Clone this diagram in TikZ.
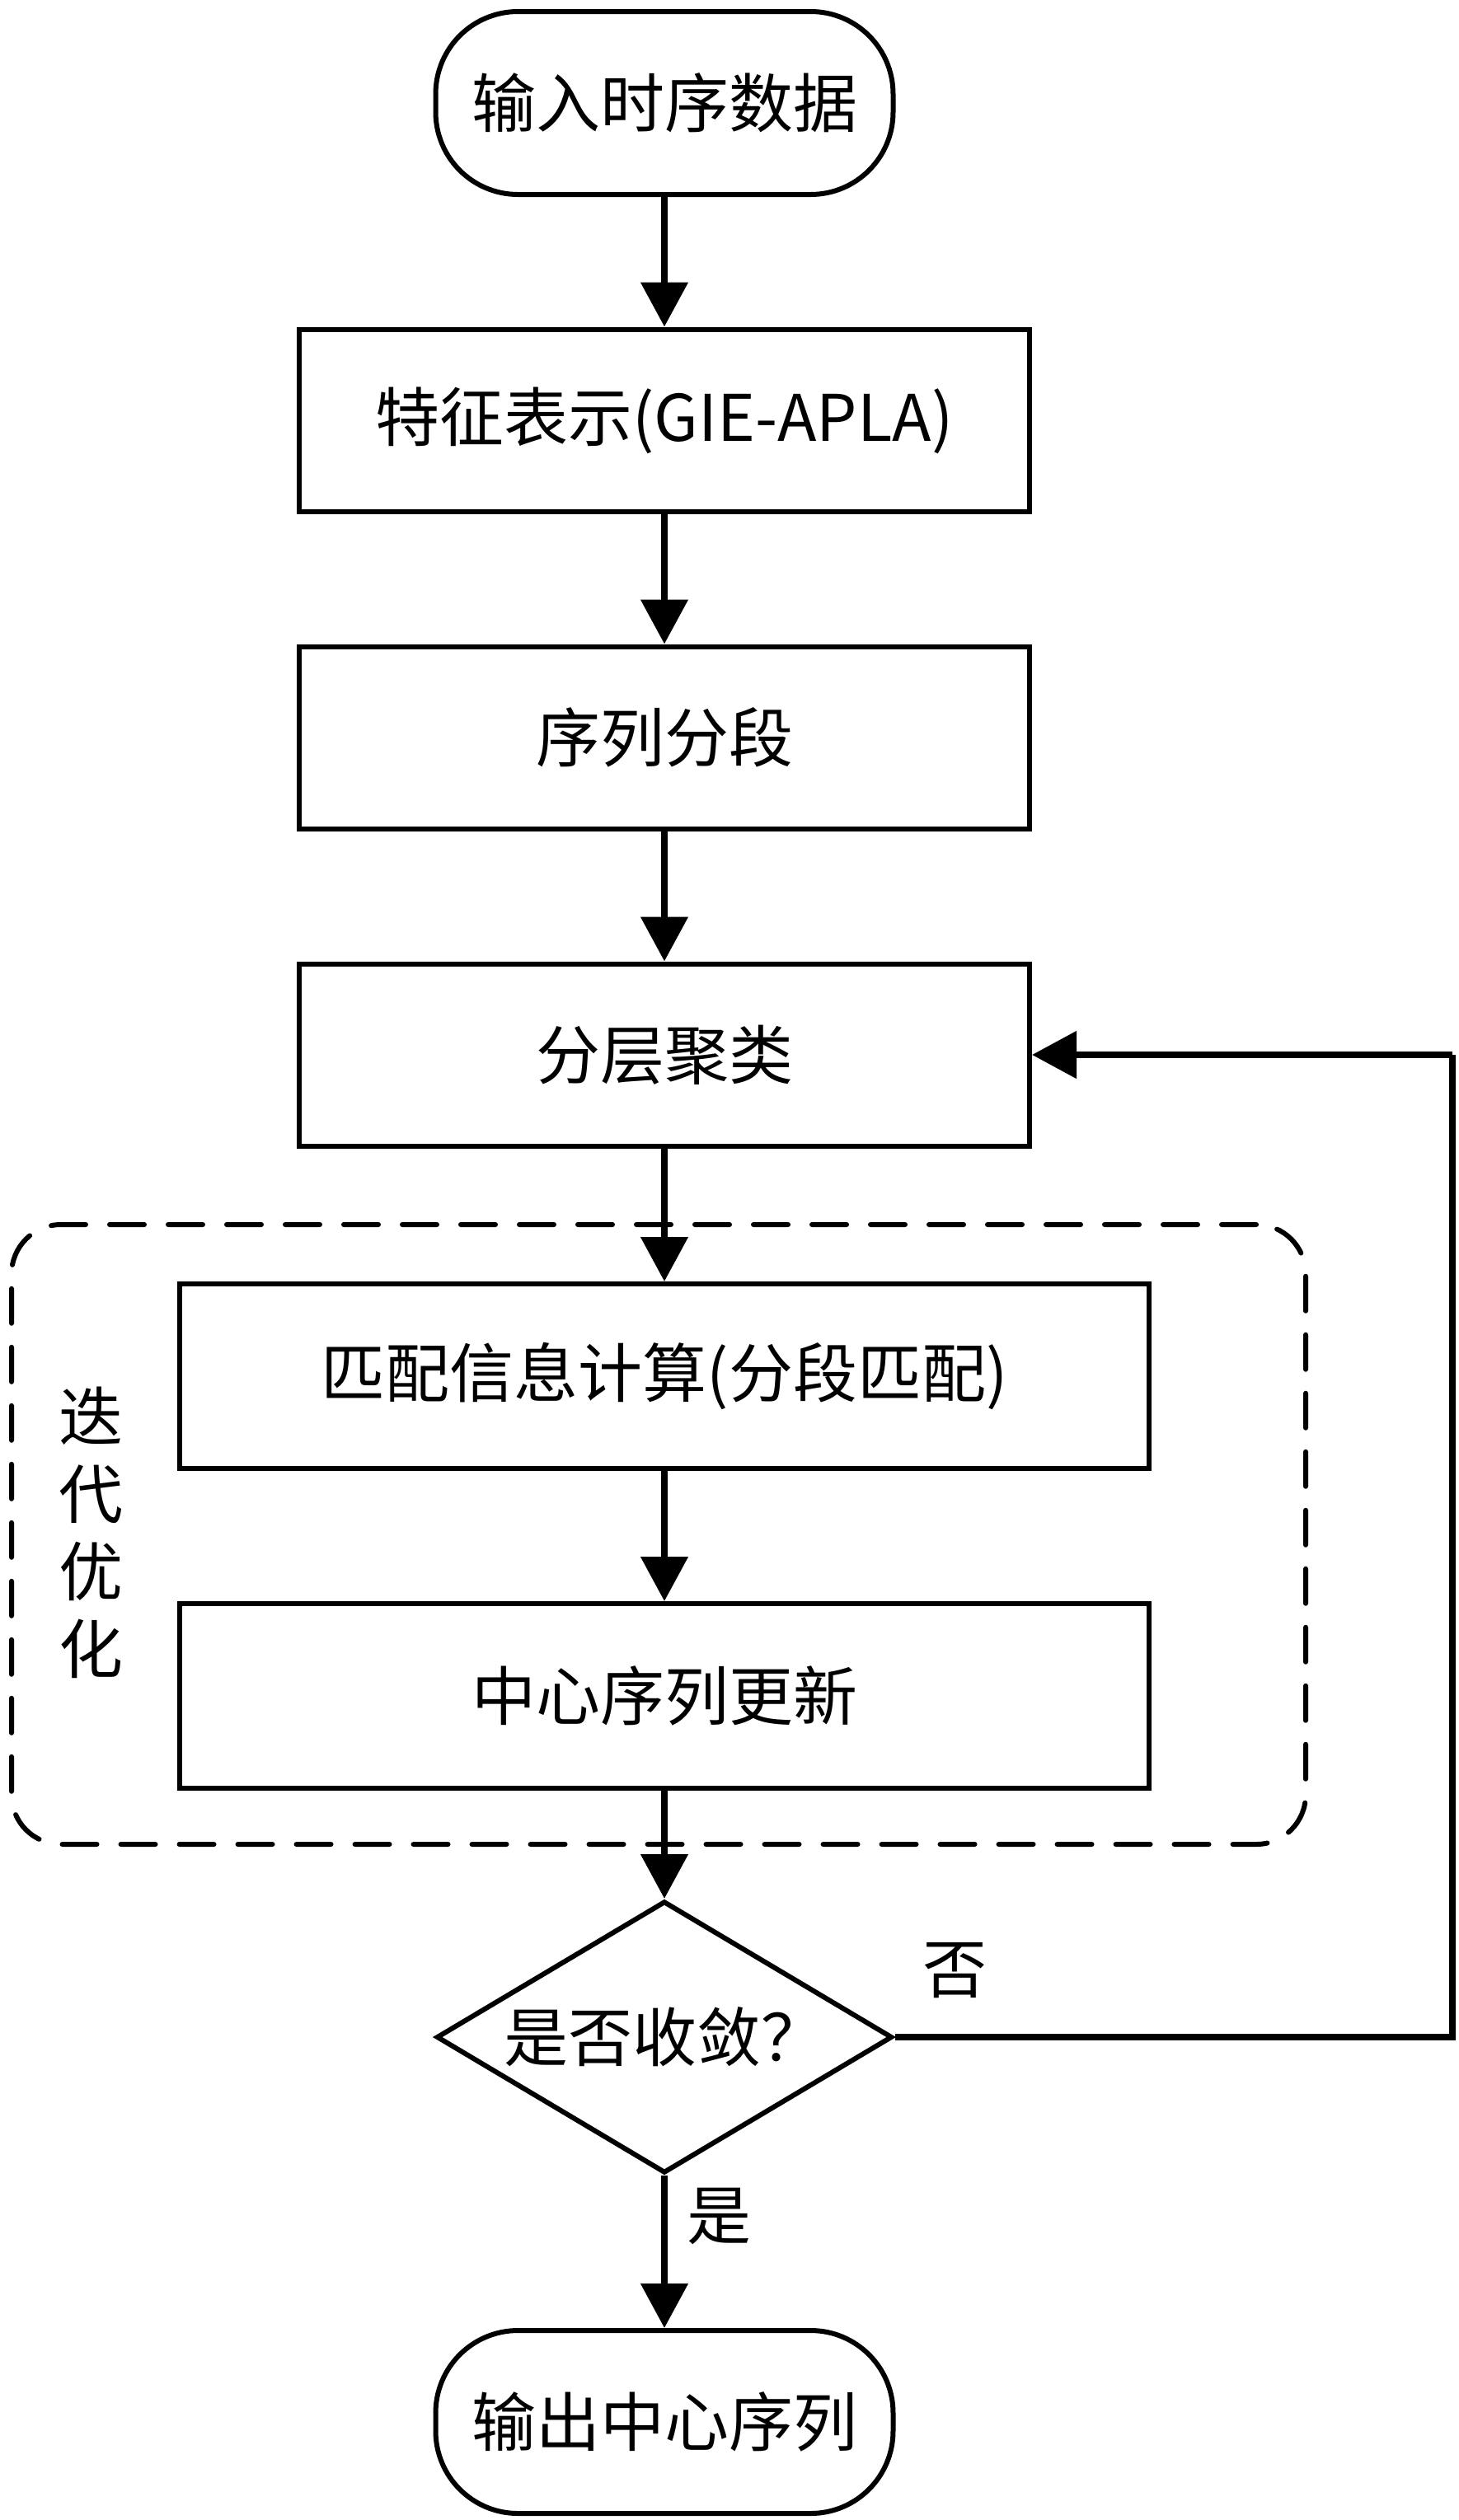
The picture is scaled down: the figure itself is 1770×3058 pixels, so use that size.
\documentclass[tikz,border=0pt]{standalone}
\usepackage{fontspec}
\setmainfont{Noto Sans CJK SC}
\usetikzlibrary{arrows.meta,shapes.geometric}
\begin{document}
\begin{tikzpicture}[x=0.5pt,y=-0.5pt,
  every node/.style={font=\fontsize{39}{47}\selectfont},
  box/.style={draw,line width=3pt,inner sep=0pt,minimum width=443pt,minimum height=110.5pt},
  widebox/.style={box,minimum width=588pt,minimum height=112pt},
  term/.style={draw,line width=3pt,inner sep=0pt,rounded corners=50pt,minimum width=277.5pt,minimum height=111pt},
  dia/.style={draw,shape=diamond,line width=3pt,inner sep=0pt,minimum width=276.5pt,minimum height=165pt},
  frame/.style={draw,line width=3pt,rounded corners=30pt,dash pattern=on 21pt off 14.5pt,line cap=round,inner sep=0pt,minimum width=785pt,minimum height=376pt},
  flow/.style={line width=4pt,-{Triangle[length=27pt,width=28pt]}},
  fb/.style={line width=4pt},
  lbl/.style={inner sep=0pt}]
\useasboundingbox (0,0) rectangle (1770,3058);
\fill[white] (0,0) rectangle (1770,3058);
\node[frame] (fr) at (799,1862) {};
\node[term] (t1) at (806,125) {输入时序数据};
\node[box] (b1) at (806,510) {特征表示(GIE-APLA)};
\node[box] (b2) at (806,895) {序列分段};
\node[box] (b3) at (806,1280) {分层聚类};
\node[widebox] (b4) at (806,1670) {匹配信息计算(分段匹配)};
\node[widebox] (b5) at (806,2058) {中心序列更新};
\node[dia] (d) at (806,2472) {};
\node[lbl] (dt) at (d.center) {是否收敛？};
\node[term] (t2) at (806,2939) {输出中心序列};
\node[lbl,align=center] (side) at (110,1860) {迭\\代\\优\\化};
\node[lbl] (no) at (1158,2391) {否};
\node[lbl] (yes) at (872,2689) {是};
\coordinate (fbx) at (1762,0);
\draw[flow] (t1) -- (b1);
\draw[flow] (b1) -- (b2);
\draw[flow] (b2) -- (b3);
\draw[flow] (b3) -- (b4);
\draw[flow] (b4) -- (b5);
\draw[flow] (b5) -- (d);
\draw[flow] (d) -- (t2);
\draw[fb] (d.east) -- (d.east -| fbx) -- (b3.east -| fbx);
\draw[flow] (b3.east -| fbx) -- (b3.east);
\end{tikzpicture}
\end{document}
